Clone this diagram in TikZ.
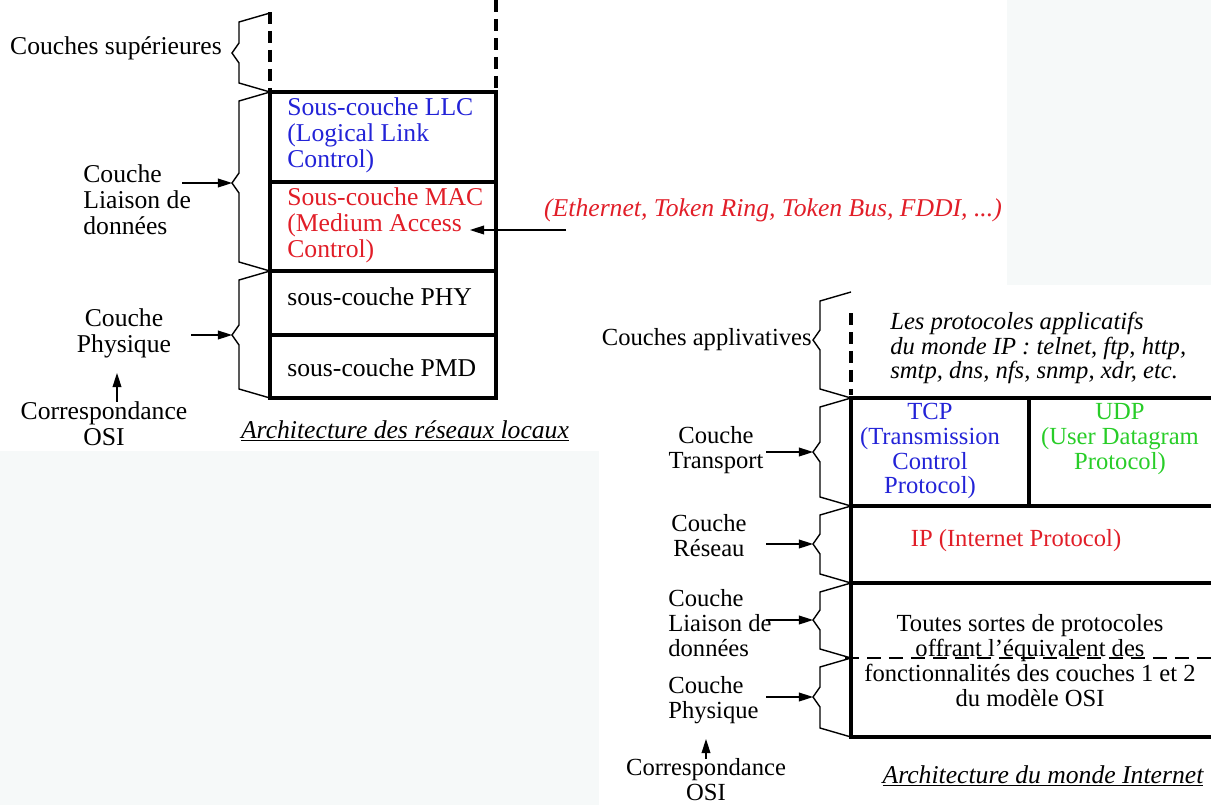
\documentclass[tikz,border=0pt]{standalone}
\usepackage{fontspec}
\setmainfont{Liberation Serif}
\usetikzlibrary{arrows.meta}
\definecolor{bleuLLC}{RGB}{35,35,215}
\definecolor{rougeMAC}{RGB}{225,30,40}
\definecolor{vertUDP}{RGB}{40,205,40}
\definecolor{fondgris}{RGB}{246,249,249}

\begin{document}
\begin{tikzpicture}
  [x=0.02cm,y=-0.02cm,
   every node/.style={inner sep=0pt, font=\fontsize{14.6}{14.8}\selectfont},
   droite/.style={font=\fontsize{14}{14.2}\selectfont},
   boite/.style={line width=2.2pt},
   accol/.style={line width=0.8pt, line join=miter},
   fleche/.style={line width=0.7pt, -{Triangle[length=8pt,width=5pt]}},
   tirets/.style={line width=2.2pt, dash pattern=on 0.24cm off 0.14cm},
   legende/.style={font=\fontsize{14.6}{14.8}\selectfont\itshape}]
  \useasboundingbox (0,0) rectangle (1211,805);
  \fill[fondgris] (1007,0) rectangle (1211,285);
  \fill[fondgris] (0,451) rectangle (599,805);

  % reseaux locaux
  \draw[tirets] (270,12) -- (270,90);
  \draw[tirets] (496,0) -- (496,90);
  \draw[boite] (270,92) rectangle (496,398);
  \foreach \y in {182,335} \draw[boite] (270,\y) -- (496,\y);
  \draw[boite, line width=2.8pt] (270,271) -- (496,271);

  % monde Internet
  \draw[tirets] (851,313) -- (851,395);
  \draw[boite] (1215,398) -- (851,398) -- (851,737) -- (1215,737);
  \foreach \y in {506,583} \draw[boite] (851,\y) -- (1215,\y);
  \draw[boite] (1029,398) -- (1029,506);
  \draw[line width=0.6pt, dash pattern=on 0.28cm off 0.16cm] (845,658) -- (1215,658);

  % accolades
  \foreach \c/\h/\m/\b/\n in {270/13/53/92/a, 270/92/183/271/b, 270/271/335/398/c,
      851/292/340/398/e, 851/398/452/506/f, 851/506/544/583/g, 851/583/620/658/h, 851/658/697/737/i}
  {
    \draw[accol] (\c,\h) -- (\c-31,\h+9) -- (\c-31,\m-10) -- (\c-38,\m) -- (\c-31,\m+10) -- (\c-31,\b-9) -- (\c,\b);
    \coordinate (pointe\n) at (\c-38,\m);
  }

  \node (sup) at (116,48) {Couches supérieures};
  \node[align=left, anchor=west] (liaisonG) at (83,200) {Couche\\Liaison de\\données};
  \node[align=center] (physG) at (124,333) {Couche\\Physique};
  \node[align=center] (osiG) at (104,424) {Correspondance\\OSI};
  \node[align=left, anchor=west, text=bleuLLC] (llc) at (287,135) {Sous-couche LLC\\(Logical Link\\Control)};
  \node[align=left, anchor=west, text=rougeMAC] (mac) at (287,225) {Sous-couche MAC\\(Medium Access\\Control)};
  \node[anchor=west] (phy) at (287,297) {sous-couche PHY};
  \node[anchor=west] (pmd) at (287,368) {sous-couche PMD};
  \node[legende, text=rougeMAC] (ether) at (773,210) {(Ethernet, Token Ring, Token Bus, FDDI, ...)};
  \node[legende] (titreG) at (405,431) {\underline{Architecture des réseaux locaux}};

  \node[droite, anchor=east] (appl) at (812,340) {Couches applivatives};
  \node[droite, align=center] (transp) at (716,450) {Couche\\Transport};
  \node[droite, align=center] (reseau) at (709,536) {Couche\\Réseau};
  \node[droite, align=left, anchor=west] (liaisonD) at (668,623) {Couche\\Liaison de\\données};
  \node[droite, align=left, anchor=west] (physD) at (668,700) {Couche\\Physique};
  \node[droite, align=center] (osiD) at (706,780) {Correspondance\\OSI};
  \node[droite, align=left, anchor=west] (protos) at (890,348) {\itshape Les protocoles applicatifs\\\itshape du monde IP : telnet, ftp, http,\\\itshape smtp, dns, nfs, snmp, xdr, etc.};
  \node[droite, align=center, text=bleuLLC] (tcp) at (930,451) {TCP\\(Transmission\\Control\\Protocol)};
  \node[droite, align=center, text=vertUDP] (udp) at (1120,439) {UDP\\(User Datagram\\Protocol)};
  \node[droite, text=rougeMAC] (ip) at (1016,541) {IP (Internet Protocol)};
  \node[droite, align=center] (toutes) at (1030,661) {Toutes sortes de protocoles\\offrant l’équivalent des\\fonctionnalités des couches 1 et 2\\du modèle OSI};
  \node[legende] (titreD) at (1043,776) {\underline{Architecture du monde Internet}};

  \coordinate (departE) at (566,230);
  \coordinate (flecheMAC) at (470,230);
  \draw[fleche] (departE) -- (flecheMAC);
  \coordinate (hautG) at (117,373);
  \draw[fleche] (osiG.north -| hautG) -- (hautG);
  \coordinate (hautD) at (706,739);
  \draw[fleche] (osiD.north -| hautD) -- (hautD);
  \foreach \n/\l in {b/1cm, c/0.82cm, f/0.94cm, g/0.94cm, h/0.94cm, i/0.94cm}
    \draw[fleche] ([xshift=-\l]pointe\n) -- (pointe\n);
\end{tikzpicture}
\end{document}
